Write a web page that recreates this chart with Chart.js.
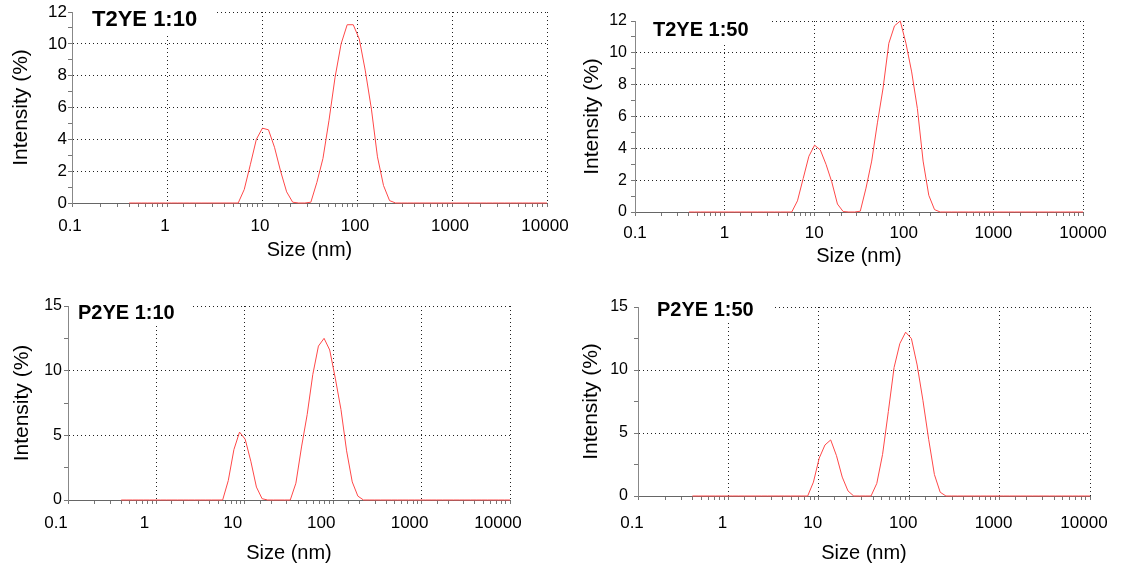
<!DOCTYPE html>
<html>
<head>
<meta charset="utf-8">
<script src="https://cdn.jsdelivr.net/npm/chart.js@4"></script>
<style>
  body { margin: 0; background: #fff; }
  #wrap { position: relative; width: 1146px; height: 568px; }
  canvas { position: absolute; }
</style>
</head>
<body>
<div id="wrap">
  <canvas id="c1" width="573" height="284" style="left:0;top:0"></canvas>
  <canvas id="c2" width="573" height="284" style="left:573px;top:0"></canvas>
  <canvas id="c3" width="573" height="284" style="left:0;top:284px"></canvas>
  <canvas id="c4" width="573" height="284" style="left:573px;top:284px"></canvas>
</div>
<script>
// tamaños de partícula (nm), un valor por canal de medida
const sizes = [0.4, 0.4632, 0.5365, 0.6213, 0.7195, 0.8332, 0.9649, 1.117, 1.294, 1.499,
  1.736, 2.01, 2.328, 2.696, 3.122, 3.615, 4.187, 4.849, 5.615, 6.503,
  7.531, 8.721, 10.1, 11.7, 13.54, 15.69, 18.17, 21.04, 24.36, 28.21,
  32.67, 37.84, 43.82, 50.75, 58.77, 68.06, 78.82, 91.28, 105.7, 122.4,
  141.8, 164.2, 190.1, 220.2, 255, 295.3, 342, 396.1, 458.7, 531.2,
  615.1, 712.4, 825, 955.4, 1106, 1281, 1484, 1718, 1990, 2305,
  2669, 3091, 3580, 4145, 4801, 5560, 6439, 7456, 8635, 10000]

// intensidad (%) de cada muestra
const t2ye110 = [0, 0, 0, 0, 0, 0, 0, 0, 0, 0,
  0, 0, 0, 0, 0, 0, 0, 0, 0, 0.85,
  2.4, 4.0, 4.7, 4.6, 3.5, 2.0, 0.7, 0.05, 0, 0,
  0.05, 1.3, 2.8, 5.2, 7.9, 10.0, 11.2, 11.2, 10.3, 8.3,
  5.9, 2.9, 1.1, 0.15, 0, 0, 0, 0, 0, 0,
  0, 0, 0, 0, 0, 0, 0, 0, 0, 0,
  0, 0, 0, 0, 0, 0, 0, 0, 0, 0]
const t2ye150 = [0, 0, 0, 0, 0, 0, 0, 0, 0, 0,
  0, 0, 0, 0, 0, 0, 0, 0, 0, 0.7,
  2.1, 3.5, 4.2, 3.9, 3.0, 1.9, 0.5, 0.03, 0, 0,
  0.05, 1.5, 3.2, 5.6, 7.8, 10.6, 11.7, 12.0, 10.6, 8.8,
  6.5, 3.2, 1.05, 0.15, 0, 0, 0, 0, 0, 0,
  0, 0, 0, 0, 0, 0, 0, 0, 0, 0,
  0, 0, 0, 0, 0, 0, 0, 0, 0, 0]
const p2ye110 = [0, 0, 0, 0, 0, 0, 0, 0, 0, 0,
  0, 0, 0, 0, 0, 0, 0, 0, 0, 1.5,
  3.9, 5.25, 4.7, 3.0, 1.0, 0.1, 0, 0, 0, 0,
  0, 1.3, 4.1, 6.6, 9.7, 11.9, 12.5, 11.6, 9.4, 7.0,
  3.8, 1.4, 0.3, 0, 0, 0, 0, 0, 0, 0,
  0, 0, 0, 0, 0, 0, 0, 0, 0, 0,
  0, 0, 0, 0, 0, 0, 0, 0, 0, 0]
const p2ye150 = [0, 0, 0, 0, 0, 0, 0, 0, 0, 0,
  0, 0, 0, 0, 0, 0, 0, 0, 0, 0,
  0, 1.1, 3.0, 4.05, 4.45, 3.2, 1.5, 0.4, 0, 0,
  0, 0, 1.0, 3.3, 6.7, 10.2, 12.1, 13.0, 12.5, 10.4,
  7.6, 4.5, 1.7, 0.3, 0, 0, 0, 0, 0, 0,
  0, 0, 0, 0, 0, 0, 0, 0, 0, 0,
  0, 0, 0, 0, 0, 0, 0, 0, 0, 0]

const xTickLabels = ['0.1', '1', '10', '100', '1000', '10000']
const titulos = ['T2YE 1:10', 'T2YE 1:50', 'P2YE 1:10', 'P2YE 1:50']

const FONT = "'Liberation Sans', Arial, sans-serif"

// plugin para el recuadro del título dentro de la gráfica
const tituloPanel = {
  id: 'tituloPanel',
  afterDatasetsDraw(chart, args, opts) {
    const ctx = chart.ctx
    ctx.save()
    ctx.fillStyle = '#fff'
    ctx.fillRect(opts.box[0], opts.box[1], opts.box[2], opts.box[3])
    ctx.fillStyle = '#000'
    ctx.font = 'bold ' + opts.size + 'px ' + FONT
    ctx.textBaseline = 'middle'
    ctx.fillText(opts.text, opts.x, opts.y)
    ctx.restore()
  }
}
Chart.register(tituloPanel)

function esDecada(v) {
  const l = Math.log10(v)
  return Math.abs(l - Math.round(l)) < 1e-6
}

// función para inicializar cada gráfica
function initChart(id, valores, titulo, lay) {
  new Chart(document.getElementById(id), {
    type: 'line',
    data: {
      datasets: [{
        data: sizes.map((s, i) => ({ x: s, y: valores[i] })),
        borderColor: '#ff4848',
        borderWidth: 1,
        pointRadius: 0,
        tension: 0,
        fill: false,
        clip: 4
      }]
    },
    options: {
      responsive: false,
      animation: false,
      layout: { padding: { left: 0, top: lay.top, right: lay.right, bottom: 0 } },
      plugins: {
        legend: { display: false },
        tooltip: { enabled: false },
        tituloPanel: { text: titulo, x: lay.tx, y: lay.ty, box: lay.box, size: lay.tfs }
      },
      scales: {
        x: {
          type: 'logarithmic',
          min: 0.1,
          max: 10000,
          afterFit: (s) => { s.height = lay.xh; s.paddingLeft = 0; s.paddingRight = 0 },
          grid: {
            color: (c) => (c.tick && esDecada(c.tick.value) && c.tick.value > 0.11) ? '#222' : 'rgba(0,0,0,0)',
            tickColor: '#777',
            tickLength: 4
          },
          border: { color: '#666', width: 1, dash: [1, 3] },
          ticks: {
            autoSkip: false,
            maxRotation: 0,
            padding: lay.xpad,
            labelOffset: lay.xoff,
            color: '#000',
            font: { family: FONT, size: 17 },
            callback: (v) => esDecada(v) ? xTickLabels[Math.round(Math.log10(v)) + 1] : ''
          },
          title: {
            display: true,
            text: 'Size (nm)',
            color: '#000',
            font: { family: FONT, size: 20 },
            padding: { top: 0, bottom: lay.xtb }
          }
        },
        y: {
          min: 0,
          max: lay.ymax,
          afterFit: (s) => { s.width = lay.yw; s.paddingTop = 0; s.paddingBottom = 0 },
          grid: {
            color: (c) => (c.tick && c.tick.value > 0 && c.tick.value % lay.ylab === 0) ? '#222' : 'rgba(0,0,0,0)',
            tickColor: '#777',
            tickLength: 4
          },
          border: { color: '#888', width: 1, dash: [1, 3] },
          ticks: {
            stepSize: lay.ystep,
            autoSkip: false,
            padding: lay.ypad,
            color: '#000',
            font: { family: FONT, size: lay.yfs },
            callback: (v) => v % lay.ylab === 0 ? String(v) : ''
          },
          title: {
            display: true,
            text: 'Intensity (%)',
            color: '#000',
            font: { family: FONT, size: 21 },
            padding: { top: lay.ytp, bottom: 0 }
          }
        }
      }
    }
  })
}

initChart('c1', t2ye110, titulos[0], {
  top: 12, right: 26, xh: 81, yw: 72, xpad: 9, xoff: -2, xtb: 22, ymax: 12, ystep: 1, ylab: 2,
  ypad: 1, yfs: 17, ytp: 9, tx: 92, ty: 20, tfs: 22, box: [73, 4, 142, 30]
})
initChart('c2', t2ye150, titulos[1], {
  top: 21, right: 63, xh: 72, yw: 62, xpad: 7, xoff: 0, xtb: 16, ymax: 12, ystep: 1, ylab: 2,
  ypad: 4, yfs: 16, ytp: 7, tx: 80, ty: 30, tfs: 20, box: [63, 13, 136, 30]
})
initChart('c3', p2ye110, titulos[2], {
  top: 22, right: 63, xh: 68, yw: 68, xpad: 9, xoff: -12, xtb: 3, ymax: 15, ystep: 2.5, ylab: 5,
  ypad: 2, yfs: 16, ytp: 10, tx: 78, ty: 29, tfs: 20, box: [69, 14, 123, 28]
})
initChart('c4', p2ye150, titulos[3], {
  top: 23, right: 56, xh: 72, yw: 65, xpad: 13, xoff: -6, xtb: 3, ymax: 15, ystep: 2.5, ylab: 5,
  ypad: 6, yfs: 16, ytp: 6, tx: 84, ty: 26, tfs: 20, box: [66, 12, 136, 27]
})
</script>
</body>
</html>
